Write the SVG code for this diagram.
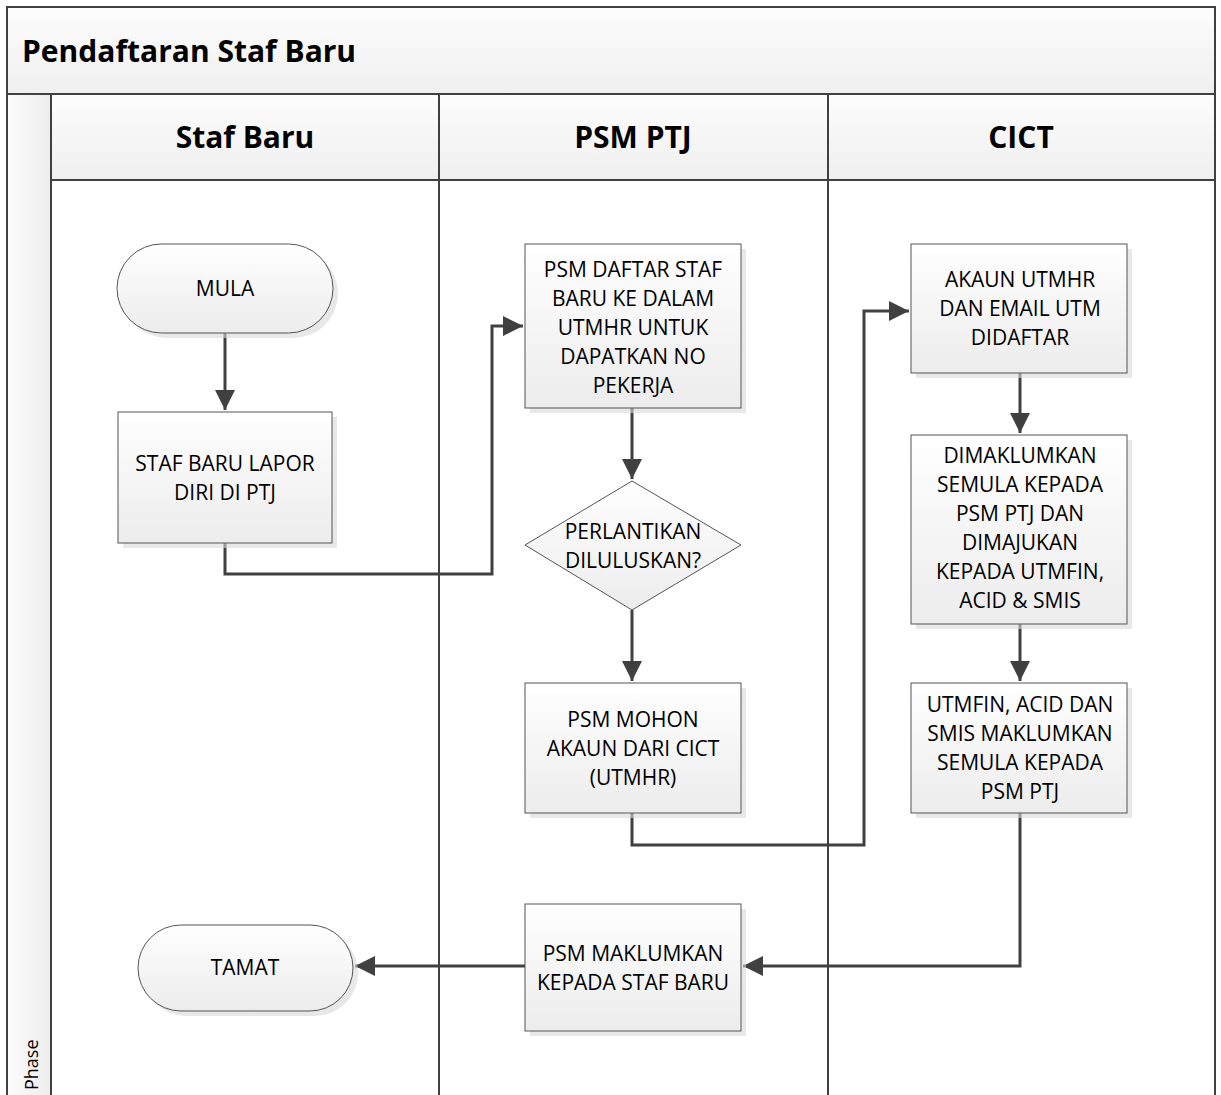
<svg xmlns="http://www.w3.org/2000/svg" width="1221" height="1095" viewBox="0 0 1221 1095">
<defs>
<linearGradient id="g" x1="0" y1="0" x2="0" y2="1"><stop offset="0" stop-color="#ffffff"/><stop offset="1" stop-color="#ececec"/></linearGradient>
<linearGradient id="gh" x1="0" y1="0" x2="0" y2="1"><stop offset="0" stop-color="#fdfdfd"/><stop offset="1" stop-color="#efefef"/></linearGradient>
<linearGradient id="gp" x1="0" y1="0" x2="1" y2="0"><stop offset="0" stop-color="#fdfdfd"/><stop offset="1" stop-color="#ececec"/></linearGradient>
<marker id="a" viewBox="0 0 20 20" refX="20" refY="10" markerWidth="20" markerHeight="20" markerUnits="userSpaceOnUse" orient="auto"><path d="M0,0 L20,10 L0,20 z" fill="#404040"/></marker>
</defs>
<style>
.frame{fill:none;stroke:#404040;stroke-width:2}
.box{fill:url(#g);stroke:#555;stroke-width:1}
.sh{fill:#d9d9d9;opacity:0.6}
.t{font-family:"Open Sans","Liberation Sans",sans-serif;font-size:21px;fill:#000;text-anchor:middle}
.h{font-family:"Open Sans","Liberation Sans",sans-serif;font-size:30px;font-weight:bold;fill:#000;text-anchor:middle}
.c{fill:none;stroke:#404040;stroke-width:3;marker-end:url(#a)}
</style>
<rect x="0" y="0" width="1221" height="1095" fill="#fff"/>
<g id="pool">
<rect x="7" y="7" width="1208" height="87" fill="url(#gh)"/>
<rect x="7" y="94" width="44" height="1010" fill="url(#gp)"/>
<rect x="51" y="94" width="1164" height="86" fill="url(#gh)"/>
<path class="frame" d="M7,1100 V7 H1215 V1100 M7,94 H1215 M51,94 V1100 M439,94 V1100 M828,94 V1100 M51,180 H1215"/>
<text x="22" y="62" font-family="Open Sans, Liberation Sans, sans-serif" font-size="30px" font-weight="bold">Pendaftaran Staf Baru</text>
<text class="h" x="245" y="148">Staf Baru</text>
<text class="h" x="633" y="148">PSM PTJ</text>
<text class="h" x="1021" y="148">CICT</text>
<text transform="translate(38,1090) rotate(-90)" font-family="Open Sans, Liberation Sans, sans-serif" font-size="18px">Phase</text>
</g>
<g id="connectors">
<path class="c" d="M225,333 V410"/>
<path class="c" d="M225,543 V574 H492 V326 H523"/>
<path class="c" d="M632,408 V479"/>
<path class="c" d="M632,610 V681"/>
<path class="c" d="M632,813 V845 H864 V311 H909"/>
<path class="c" d="M1020,373 V433"/>
<path class="c" d="M1020,624 V681"/>
<path class="c" d="M1020,813 V966 H743"/>
<path class="c" d="M525,966 H355"/>
</g>
<g id="mula">
<rect class="sh" x="122" y="249" width="216" height="89" rx="44.5"/>
<rect class="box" x="117" y="244" width="216" height="89" rx="44.5"/>
<text class="t" x="225" y="296">MULA</text>
</g>
<g id="lapor">
<rect class="sh" x="123" y="417" width="214" height="131"/>
<rect class="box" x="118" y="412" width="214" height="131"/>
<text class="t" x="225" y="471">STAF BARU LAPOR</text>
<text class="t" x="225" y="500">DIRI DI PTJ</text>
</g>
<g id="daftar">
<rect class="sh" x="530" y="249" width="216" height="164"/>
<rect class="box" x="525" y="244" width="216" height="164"/>
<text class="t" x="633" y="277">PSM DAFTAR STAF</text>
<text class="t" x="633" y="306">BARU KE DALAM</text>
<text class="t" x="633" y="335">UTMHR UNTUK</text>
<text class="t" x="633" y="364">DAPATKAN NO</text>
<text class="t" x="633" y="393">PEKERJA</text>
</g>
<g id="diamond">
<path d="M632,481 L741,545 L632,610 L525,545 Z" fill="url(#g)" stroke="#555" stroke-width="1"/>
<text class="t" x="633" y="539">PERLANTIKAN</text>
<text class="t" x="633" y="568">DILULUSKAN?</text>
</g>
<g id="mohon">
<rect class="sh" x="530" y="688" width="216" height="130"/>
<rect class="box" x="525" y="683" width="216" height="130"/>
<text class="t" x="633" y="727">PSM MOHON</text>
<text class="t" x="633" y="756">AKAUN DARI CICT</text>
<text class="t" x="633" y="785">(UTMHR)</text>
</g>
<g id="akaun">
<rect class="sh" x="916" y="249" width="216" height="129"/>
<rect class="box" x="911" y="244" width="216" height="129"/>
<text class="t" x="1020" y="287">AKAUN UTMHR</text>
<text class="t" x="1020" y="316">DAN EMAIL UTM</text>
<text class="t" x="1020" y="345">DIDAFTAR</text>
</g>
<g id="dimaklumkan">
<rect class="sh" x="916" y="440" width="216" height="189"/>
<rect class="box" x="911" y="435" width="216" height="189"/>
<text class="t" x="1020" y="463">DIMAKLUMKAN</text>
<text class="t" x="1020" y="492">SEMULA KEPADA</text>
<text class="t" x="1020" y="521">PSM PTJ DAN</text>
<text class="t" x="1020" y="550">DIMAJUKAN</text>
<text class="t" x="1020" y="579">KEPADA UTMFIN,</text>
<text class="t" x="1020" y="608">ACID &amp; SMIS</text>
</g>
<g id="utmfin">
<rect class="sh" x="916" y="688" width="216" height="130"/>
<rect class="box" x="911" y="683" width="216" height="130"/>
<text class="t" x="1020" y="712">UTMFIN, ACID DAN</text>
<text class="t" x="1020" y="741">SMIS MAKLUMKAN</text>
<text class="t" x="1020" y="770">SEMULA KEPADA</text>
<text class="t" x="1020" y="799">PSM PTJ</text>
</g>
<g id="maklumkan">
<rect class="sh" x="530" y="909" width="216" height="127"/>
<rect class="box" x="525" y="904" width="216" height="127"/>
<text class="t" x="633" y="961">PSM MAKLUMKAN</text>
<text class="t" x="633" y="990">KEPADA STAF BARU</text>
</g>
<g id="tamat">
<rect class="sh" x="143" y="930" width="215" height="86" rx="43"/>
<rect class="box" x="138" y="925" width="215" height="86" rx="43"/>
<text class="t" x="245" y="975">TAMAT</text>
</g>
</svg>
